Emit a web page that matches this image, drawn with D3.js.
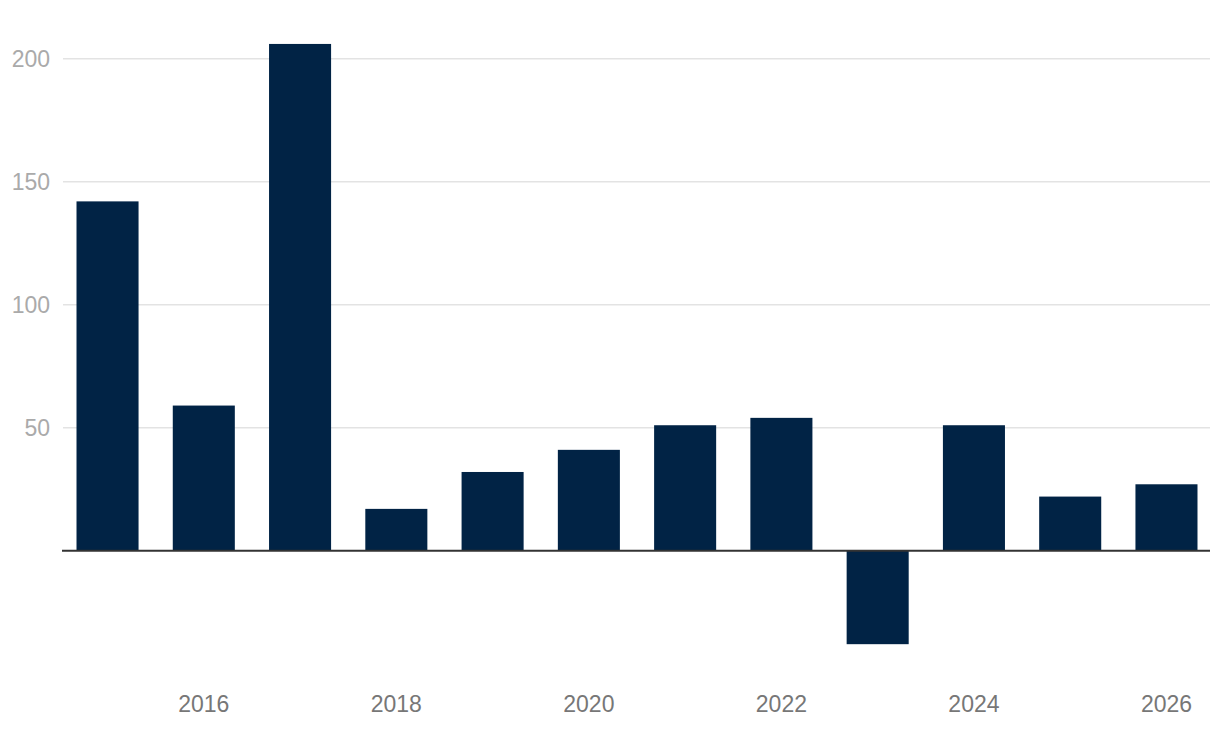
<!DOCTYPE html>
<html>
<head>
<meta charset="utf-8">
<script src="https://cdn.jsdelivr.net/npm/d3@7"></script>
<style>
  html, body { margin: 0; padding: 0; background: #fff; }
  svg { display: block; font-family: "Liberation Sans", Arial, Helvetica, sans-serif; }
</style>
</head>
<body>
<svg id="chart" width="1220" height="730"></svg>
<script>
const years = [2015, 2016, 2017, 2018, 2019, 2020, 2021, 2022, 2023, 2024, 2025, 2026];
const values = [142, 59, 206, 17, 32, 41, 51, 54, -38, 51, 22, 27];
const yTicks = [50, 100, 150, 200];
const xTickLabels = [2016, 2018, 2020, 2022, 2024, 2026];

const svg = d3.select("#chart");
const left = 62, right = 1210;

const x = d3.scaleBand()
  .domain(years)
  .range([left + 0.5, right + 1.5])
  .paddingInner(0.3555)
  .paddingOuter(0.1455);

// 0 -> 550.7, 200 -> 58.7
const y = d3.scaleLinear().domain([0, 200]).range([550.7, 58.7]);

// gridlines
svg.append("g")
  .selectAll("line")
  .data(yTicks)
  .join("line")
  .attr("x1", left + 1)
  .attr("x2", right)
  .attr("y1", d => y(d))
  .attr("y2", d => y(d))
  .attr("stroke", "#e3e3e3")
  .attr("stroke-width", 1.5);

// y labels
svg.append("g")
  .selectAll("text")
  .data(yTicks)
  .join("text")
  .attr("x", 50)
  .attr("y", d => y(d))
  .attr("dy", "0.35em")
  .attr("text-anchor", "end")
  .attr("fill", "#aaaaaa")
  .attr("font-size", 23)
  .text(d => d);

// bars
svg.append("g")
  .selectAll("rect")
  .data(years.map((yr, i) => ({ yr, v: values[i] })))
  .join("rect")
  .attr("x", d => x(d.yr))
  .attr("width", x.bandwidth())
  .attr("y", d => Math.min(y(d.v), y(0)))
  .attr("height", d => Math.abs(y(d.v) - y(0)))
  .attr("fill", "#012345");

// zero axis line
svg.append("line")
  .attr("x1", left)
  .attr("x2", right)
  .attr("y1", y(0))
  .attr("y2", y(0))
  .attr("stroke", "#333333")
  .attr("stroke-width", 2);

// x labels
svg.append("g")
  .selectAll("text")
  .data(xTickLabels)
  .join("text")
  .attr("x", d => x(d) + x.bandwidth() / 2)
  .attr("y", 712)
  .attr("text-anchor", "middle")
  .attr("fill", "#777777")
  .attr("font-size", 23)
  .text(d => d);
</script>
</body>
</html>
